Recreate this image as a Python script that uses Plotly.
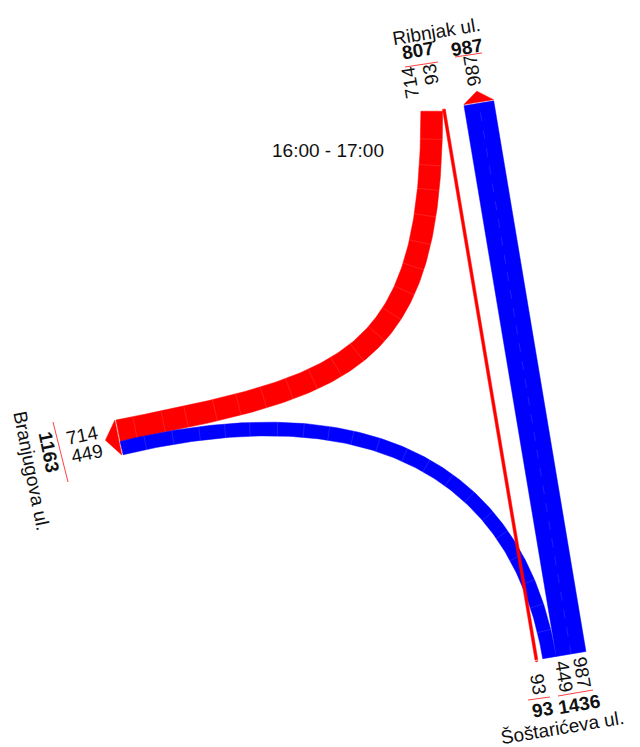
import numpy as np
import plotly.graph_objects as go

# ── Data: turning volumes at the junction, 16:00 - 17:00 ─────────────
PERIOD = "16:00 - 17:00"
LEGS = ["Ribnjak ul.", "Branjugova ul.", "Šoštarićeva ul."]
flow_from = ["Ribnjak ul.", "Ribnjak ul.", "Šoštarićeva ul.", "Šoštarićeva ul."]
flow_to = ["Branjugova ul.", "Šoštarićeva ul.", "Branjugova ul.", "Ribnjak ul."]
flow_veh = [714, 93, 449, 987]

# ── Style ────────────────────────────────────────────────────────────
W, H = 640, 747
PAGE_PAD = 8            # default body margin of the html page
RED, BLUE = "#FF0000", "#0000FF"
ORIGIN_COLOR = {"Ribnjak ul.": RED, "Šoštarićeva ul.": BLUE, "Branjugova ul.": "#00A000"}
PX_PER_VEH = 0.0305
FONT = "Liberation Sans, Arial, sans-serif"
TXT = "#111111"
SEAM = "rgba(255,255,255,0.16)"
SEAM_STEP = 26          # px between the faint segment seams
TEXT_LIFT = 2           # glyphs sit a little low in plotly's text box

# leg geometry (page pixels): start of the cross-section, its axis angle,
# inward direction angle, lane text angle and lane order across the leg
LEG_GEOM = {
    "Ribnjak ul.": dict(p0=(421, 113), across=-9.5, inward=80.5, lane_angle=-99.5,
                        slots=[("out", "Branjugova ul."), ("out", "Šoštarićeva ul."),
                               ("gap", 19), ("in", "Šoštarićeva ul.")]),
    "Branjugova ul.": dict(p0=(116, 420), across=78.7, inward=-11.3, lane_angle=-11.3,
                           slots=[("in", "Ribnjak ul."), ("in", "Šoštarićeva ul.")]),
    "Šoštarićeva ul.": dict(p0=(535, 660), across=-9.5, inward=-99.5, lane_angle=80.5,
                            slots=[("in", "Ribnjak ul."), ("gap", 5),
                                   ("out", "Branjugova ul."), ("out", "Ribnjak ul.")]),
}

# bent movements: handle lengths and tangent angles (None = leg direction)
BEND = {
    ("Ribnjak ul.", "Branjugova ul."): (256, 231, 90, None),
    ("Šoštarićeva ul.", "Branjugova ul."): (183, 262, None, -13.5),
}

LABELS = {
    "Ribnjak ul.": dict(name=(437, 33), lanes=[(412.5, 82.5), (433, 74.5), (474, 70)],
                        totals=[(418, 52), (467, 49)],
                        rules=[((405, 67), (438, 62)), ((455, 57), (482, 53))]),
    "Branjugova ul.": dict(name=(30, 471.5), lanes=[(82, 437), (87, 455)],
                           totals=[(47, 453)], rules=[((53, 422), (68, 482))]),
    "Šoštarićeva ul.": dict(name=(563, 729), lanes=[(536, 685), (562, 677), (580, 673)],
                            totals=[(543, 711), (579, 706)],
                            rules=[((528, 700), (550, 697)), ((558, 696), (593, 690))]),
}


def unit(deg):
    a = np.radians(deg)
    return np.array([np.cos(a), np.sin(a)])


def volume(o, d):
    for f, t, v in zip(flow_from, flow_to, flow_veh):
        if f == o and t == d:
            return v
    return 0


# lane positions across each leg
lanes = {}      # (leg, kind, other) -> (s0, s1)
groups = {}     # leg -> list of [kind, s0, s1, total, lane values]
for leg in LEGS:
    g = LEG_GEOM[leg]
    s = 0.0
    groups[leg] = []
    for kind, other in g["slots"]:
        if kind == "gap":
            s += other
            continue
        v = volume(leg, other) if kind == "out" else volume(other, leg)
        w = v * PX_PER_VEH
        lanes[(leg, kind, other)] = (s, s + w)
        if groups[leg] and groups[leg][-1][0] == kind:
            grp = groups[leg][-1]
            grp[2] = s + w
            grp[3] += v
            grp[4].append(v)
        else:
            groups[leg].append([kind, s, s + w, v, [v]])
        s += w


def lane_point(leg, s):
    g = LEG_GEOM[leg]
    return np.array(g["p0"], float) + s * unit(g["across"])


def band(o, d, v):
    """Centre line (cubic Bezier) of one movement and its two offset edges."""
    a0, a1 = lanes[(o, "out", d)]
    b0, b1 = lanes[(d, "in", o)]
    p0 = lane_point(o, (a0 + a1) / 2)
    p3 = lane_point(d, (b0 + b1) / 2)
    third = np.linalg.norm(p3 - p0) / 3
    h0, h1, ang0, ang1 = BEND.get((o, d), (third, third, None, None))
    p1 = p0 + h0 * unit(LEG_GEOM[o]["inward"] if ang0 is None else ang0)
    p2 = p3 + h1 * unit(LEG_GEOM[d]["inward"] if ang1 is None else ang1)
    t = np.linspace(0, 1, 160)[:, None]
    pts = (1 - t) ** 3 * p0 + 3 * (1 - t) ** 2 * t * p1 + 3 * (1 - t) * t ** 2 * p2 + t ** 3 * p3
    der = 3 * (1 - t) ** 2 * (p1 - p0) + 6 * (1 - t) * t * (p2 - p1) + 3 * t ** 2 * (p3 - p2)
    der /= np.linalg.norm(der, axis=1, keepdims=True)
    nrm = np.column_stack([-der[:, 1], der[:, 0]])
    half = v * PX_PER_VEH / 2
    return pts, pts + nrm * half, pts - nrm * half


fig = go.Figure()


# draw order: wide straight band, curved bands, thin straight band on top
def layer(i):
    if (flow_from[i], flow_to[i]) in BEND:
        return 1
    return 0 if flow_veh[i] > 500 else 2


for i in sorted(range(len(flow_veh)), key=layer):
    o, d, v = flow_from[i], flow_to[i], flow_veh[i]
    pts, left, right = band(o, d, v)
    poly = np.vstack([left, right[::-1], left[:1]])
    col = ORIGIN_COLOR[o]
    fig.add_trace(go.Scatter(
        x=poly[:, 0], y=poly[:, 1], mode="lines", fill="toself",
        fillcolor=col, line=dict(color=col, width=0.5),
        hoverinfo="skip", showlegend=False,
    ))
    if v * PX_PER_VEH < 5:
        continue
    # faint seams of the segmented drawing
    if (o, d) in BEND:
        arc = np.concatenate([[0], np.cumsum(np.linalg.norm(np.diff(pts, axis=0), axis=1))])
        sx, sy = [], []
        for a in np.arange(SEAM_STEP, arc[-1] - 8, SEAM_STEP):
            k = int(np.searchsorted(arc, a))
            sx += [left[k, 0], right[k, 0], None]
            sy += [left[k, 1], right[k, 1], None]
        fig.add_trace(go.Scatter(x=sx, y=sy, mode="lines",
                                 line=dict(color=SEAM, width=0.8),
                                 hoverinfo="skip", showlegend=False))
    else:
        mid = (left + right) / 2
        fig.add_trace(go.Scatter(x=mid[:, 0], y=mid[:, 1], mode="lines",
                                 line=dict(color=SEAM, width=0.8, dash="dash"),
                                 hoverinfo="skip", showlegend=False))

# entry arrows on the inbound lanes of every leg
for leg in LEGS:
    inward = unit(LEG_GEOM[leg]["inward"])
    for kind, s0, s1, tot, vals in groups[leg]:
        if kind != "in":
            continue
        a = lane_point(leg, s0) - inward * 1.2
        b = lane_point(leg, s1) - inward * 1.2
        tip = (a + b) / 2 - inward * (0.37 * (s1 - s0))
        tri = np.array([a, tip, b, a])
        fig.add_trace(go.Scatter(
            x=tri[:, 0], y=tri[:, 1], mode="lines", fill="toself",
            fillcolor=RED, line=dict(color=RED, width=0.5),
            hoverinfo="skip", showlegend=False,
        ))

# labels
annotations = []
shapes = []


def label(pos, text, angle, bold=False):
    x, y = np.array(pos, float) - TEXT_LIFT * unit(angle + 90)
    annotations.append(dict(
        x=x, y=y, xref="x", yref="y", showarrow=False,
        text=f"<b>{text}</b>" if bold else text, textangle=angle,
        xanchor="center", yanchor="middle",
        font=dict(family=FONT, size=19, color=TXT),
    ))


for leg in LEGS:
    g = LEG_GEOM[leg]
    lab = LABELS[leg]
    label(lab["name"], leg, g["across"])
    lane_vals = [v for grp in groups[leg] for v in grp[4]]
    for pos, v in zip(lab["lanes"], lane_vals):
        label(pos, str(v), g["lane_angle"])
    for pos, grp in zip(lab["totals"], groups[leg]):
        label(pos, str(grp[3]), g["across"], bold=True)
    for (x0, y0), (x1, y1) in lab["rules"]:
        shapes.append(dict(type="line", xref="x", yref="y", x0=x0, y0=y0, x1=x1, y1=y1,
                           line=dict(color="rgba(255,0,0,0.75)", width=1)))

label((327.5, 152), PERIOD, 0)

fig.update_layout(
    width=W - PAGE_PAD, height=H - PAGE_PAD,
    margin=dict(l=0, r=0, t=0, b=0),
    paper_bgcolor="white", plot_bgcolor="white",
    xaxis=dict(range=[PAGE_PAD, W], visible=False, fixedrange=True),
    yaxis=dict(range=[H, PAGE_PAD], visible=False, fixedrange=True),
    annotations=annotations, shapes=shapes,
    showlegend=False,
)

fig.write_html("out.html")
